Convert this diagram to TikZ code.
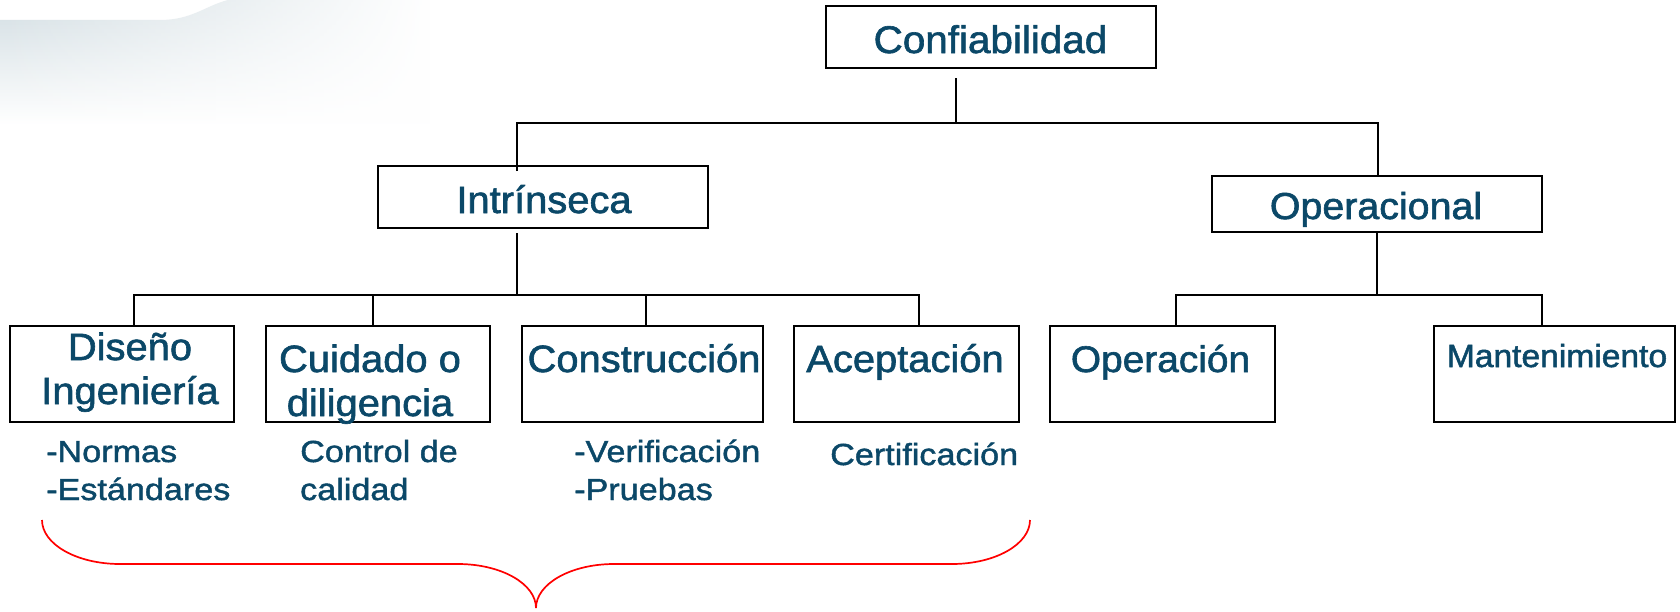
\documentclass[tikz,border=0pt]{standalone}
\usepackage{fontspec}
\setmainfont{Liberation Sans}
\newfontfamily\fa[FakeStretch=1.05,FakeBold=1.6]{Liberation Sans}
\newfontfamily\fb[FakeStretch=1.12,FakeBold=1.4]{Liberation Sans}
\usetikzlibrary{fadings}
\definecolor{tb}{HTML}{0B4868}
\definecolor{swoosh}{HTML}{D3DEE3}
\tikzfading[name=fadeoutright, left color=transparent!0, right color=transparent!100]
\newcommand\twoc[2]{\begin{tabular}[t]{@{}c@{}}#1\\#2\end{tabular}}
\newcommand\twol[2]{\begin{tabular}[t]{@{}l@{}}#1\\#2\end{tabular}}
\begin{document}
\begin{tikzpicture}[x=1pt,y=-1pt,
  box/.style={draw=black, line width=1.7pt, inner sep=0pt},
  conn/.style={line width=1.7pt, draw=black},
  big/.style={text=tb, font=\fa\fontsize{38}{44}\selectfont, inner sep=0pt, anchor=base},
  sub/.style={text=tb, font=\fb\fontsize{30.5}{38}\selectfont, inner sep=0pt, anchor=base west},
  brace/.style={draw=red, line width=1.7pt}]
\useasboundingbox (0,0) rectangle (1680,611);
\fill[white] (0,0) rectangle (1680,611);
% background swoosh
\shade[top color=swoosh, bottom color=white, path fading=fadeoutright]
  (0,20) -- (160,20) .. controls (192,20) and (205,6) .. (228,0) -- (430,0) -- (430,125) -- (0,125) -- cycle;

% boxes
\node[box, minimum width=330pt, minimum height=62pt] (conf) at (991,37) {};
\node[box, minimum width=330pt, minimum height=62pt] (intr) at (543,197) {};
\node[box, minimum width=330pt, minimum height=56pt] (oper) at (1377,204) {};
\node[box, minimum width=224pt, minimum height=96pt] (dis) at (122,374) {};
\node[box, minimum width=224pt, minimum height=96pt] (cui) at (378,374) {};
\node[box, minimum width=241pt, minimum height=96pt] (con) at (642.5,374) {};
\node[box, minimum width=225pt, minimum height=96pt] (ace) at (906.5,374) {};
\node[box, minimum width=225pt, minimum height=96pt] (ope) at (1162.5,374) {};
\node[box, minimum width=241pt, minimum height=96pt] (man) at (1554.5,374) {};

% connectors
\coordinate (cs) at (956,78);
\coordinate (jm) at (956,123);
\coordinate (jl) at (517,123);
\coordinate (jr) at (1378,123);
\draw[conn] (cs) -- (jm);
\draw[conn] ([yshift=-6pt]intr.north -| jl) -- (jl) -- (jr) -- (oper.north -| jr);
\coordinate (is) at (517,233);
\coordinate (im) at (517,295);
\coordinate (il) at (134,295);
\coordinate (ia) at (373,295);
\coordinate (ib) at (646,295);
\coordinate (ir) at (919,295);
\draw[conn] (is) -- (im);
\draw[conn] (dis.north -| il) -- (il) -- (ir) -- (ace.north -| ir);
\draw[conn] (ia) -- (cui.north -| ia);
\draw[conn] (ib) -- (con.north -| ib);
\coordinate (om) at (1377,295);
\coordinate (ol) at (1176,295);
\coordinate (or) at (1542,295);
\draw[conn] (oper.south -| om) -- (om);
\draw[conn] (ope.north -| ol) -- (ol) -- (or) -- (man.north -| or);

% texts
\node[big, font=\fa\fontsize{38.5}{44}\selectfont] (tconf) at (990.5,53) {Confiabilidad};
\node[big] (tintr) at (544,213) {Intrínseca};
\node[big, font=\fa\fontsize{37.5}{44}\selectfont] (toper) at (1376,219) {Operacional};
\node[big] (tdis) at (130,360) {\twoc{Diseño}{Ingeniería}};
\node[big] (tcui) at (370,372) {\twoc{Cuidado o}{diligencia}};
\node[big] (tcon) at (644,372) {Construcción};
\node[big] (tace) at (905,372) {Aceptación};
\node[big, font=\fa\fontsize{37}{44}\selectfont] (tope) at (1160.5,372) {Operación};
\node[big, font=\fa\fontsize{32}{44}\selectfont] (tman) at (1557,367) {Mantenimiento};

\node[sub] (tnorm) at (46,462) {\twol{-Normas}{-Estándares}};
\node[sub] (tcal) at (300,462) {\twol{Control de}{calidad}};
\node[sub] (tver) at (574,462) {\twol{-Verificación}{-Pruebas}};
\node[sub] (tcert) at (830,465) {Certificación};

% brace
\coordinate (bl) at (42,520);
\coordinate (bm) at (536,608);
\coordinate (br) at (1030,520);
\draw[brace] (bl) .. controls (42,544.3) and (76.9,564) .. (120,564) -- (458,564)
  .. controls (501.1,564) and (536,583.7) .. (bm)
  .. controls (536,583.7) and (570.9,564) .. (614,564) -- (952,564)
  .. controls (995.1,564) and (1030,544.3) .. (br);
\end{tikzpicture}
\end{document}
